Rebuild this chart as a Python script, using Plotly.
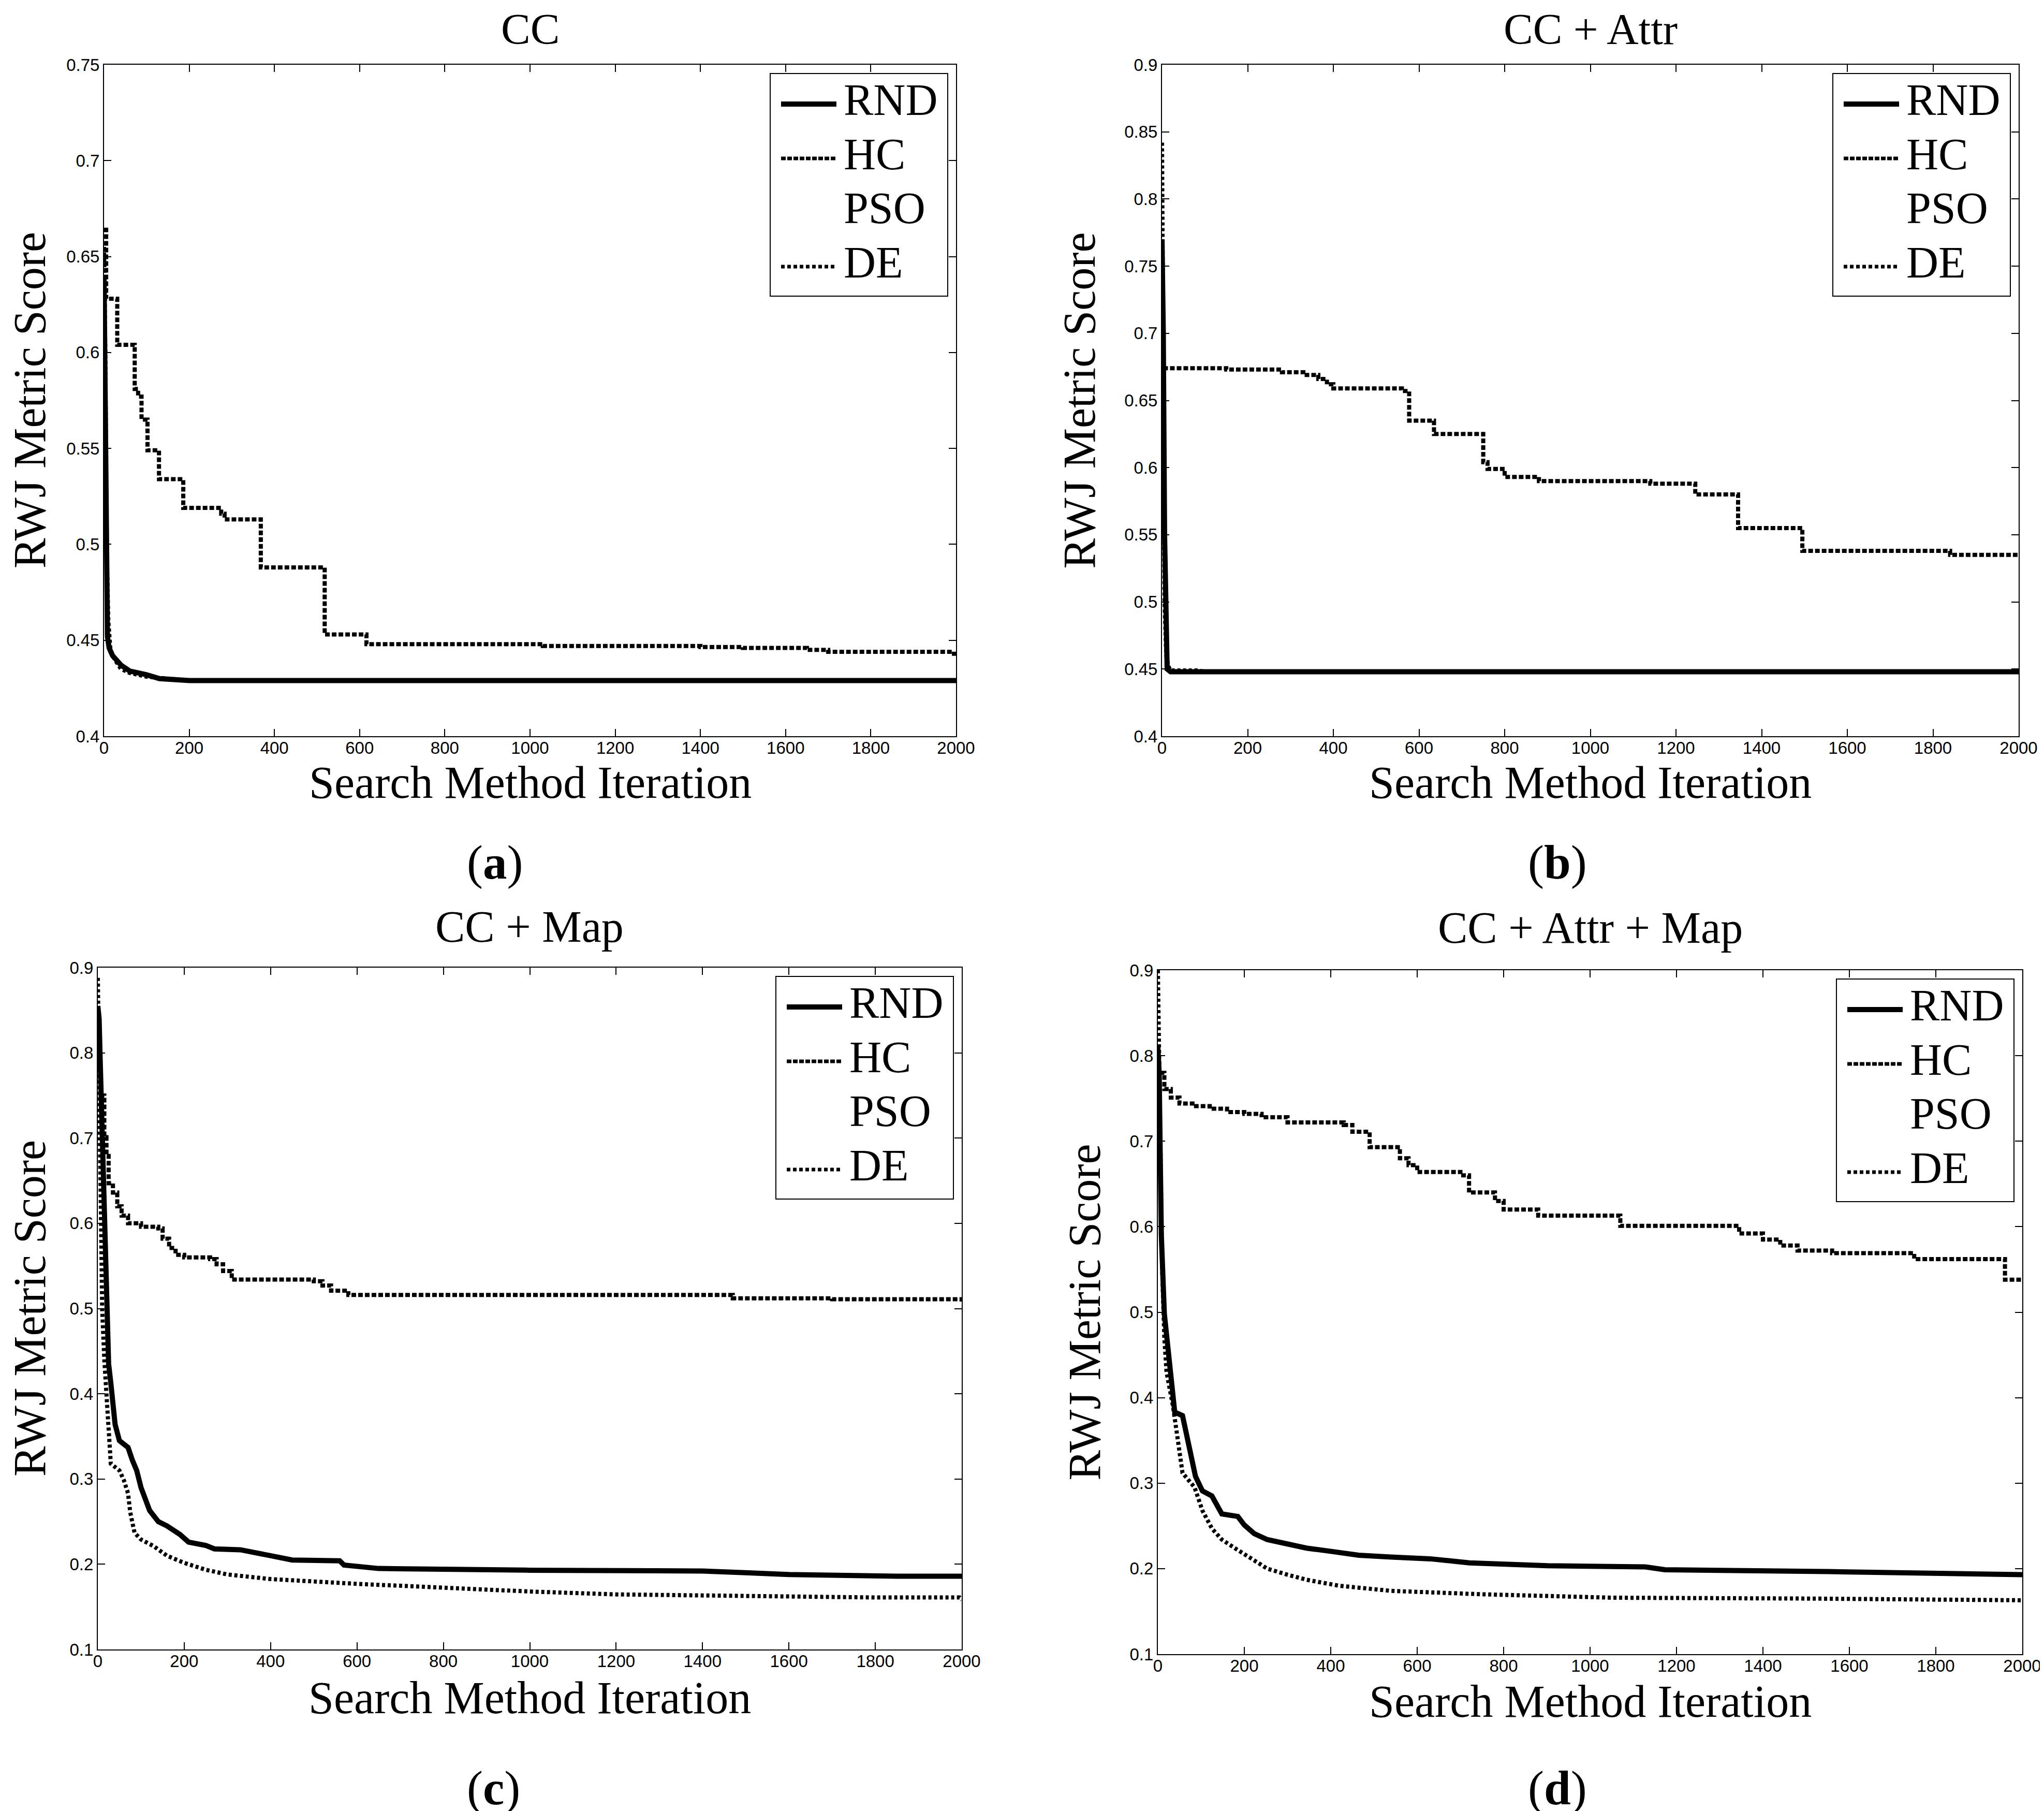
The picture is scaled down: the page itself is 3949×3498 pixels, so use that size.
import plotly.graph_objects as go

W, H = 3949, 3498

# ---------------- data ----------------
panel_titles = ["CC", "CC + Attr", "CC + Map", "CC + Attr + Map"]
panel_tags = ["a", "b", "c", "d"]
series_names = ["RND", "HC", "PSO", "DE"]
x_ticks = [0, 200, 400, 600, 800, 1000, 1200, 1400, 1600, 1800, 2000]

# (a) CC
rnd_a_x = [0, 2, 5, 8, 12, 20, 40, 60, 100, 130, 200, 2000]
rnd_a_y = [0.640, 0.600, 0.500, 0.452, 0.446, 0.442, 0.437, 0.434, 0.432, 0.430, 0.429, 0.429]
hc_a_x = [0, 5, 31, 72, 80, 88, 102, 129, 186, 275, 283, 368, 518, 616, 1030, 1400, 1500, 1650, 1700, 1990, 2000]
hc_a_y = [0.664, 0.628, 0.604, 0.581, 0.577, 0.565, 0.549, 0.534, 0.519, 0.516, 0.513, 0.488, 0.453, 0.448,
          0.447, 0.4465, 0.446, 0.445, 0.444, 0.443, 0.442]
de_a_x = [0, 3, 6, 10, 15, 25, 40, 60, 80, 100, 150, 200, 2000]
de_a_y = [0.655, 0.600, 0.500, 0.460, 0.445, 0.440, 0.435, 0.433, 0.432, 0.431, 0.430, 0.429, 0.429]

# (b) CC + Attr
rnd_b_x = [0, 3, 6, 9, 12, 20, 2000]
rnd_b_y = [0.770, 0.700, 0.550, 0.460, 0.450, 0.448, 0.448]
hc_b_x = [3, 150, 280, 330, 365, 385, 400, 560, 577, 635, 750, 760, 800, 880, 1140, 1245, 1345, 1495, 1840, 2000]
hc_b_y = [0.674, 0.673, 0.671, 0.669, 0.666, 0.662, 0.659, 0.657, 0.635, 0.625, 0.604, 0.599, 0.593, 0.590,
          0.588, 0.580, 0.555, 0.538, 0.535, 0.535]
de_b_x = [0, 2, 4, 6, 10, 15, 20, 80, 100, 2000]
de_b_y = [0.842, 0.750, 0.630, 0.500, 0.460, 0.452, 0.449, 0.449, 0.448, 0.448]

# (c) CC + Map
rnd_c_x = [0, 3, 5, 8, 13, 20, 25, 30, 40, 50, 70, 80, 90, 100, 120, 140, 160, 190, 210, 250, 270, 330, 360,
           400, 450, 560, 570, 650, 1000, 1400, 1500, 1600, 1850, 2000]
rnd_c_y = [0.855, 0.840, 0.800, 0.740, 0.630, 0.527, 0.435, 0.413, 0.364, 0.345, 0.337, 0.322, 0.310, 0.290,
           0.263, 0.250, 0.245, 0.235, 0.226, 0.222, 0.218, 0.217, 0.2135, 0.210, 0.205, 0.204, 0.199, 0.195,
           0.193, 0.192, 0.190, 0.188, 0.186, 0.186]
hc_c_x = [5, 15, 20, 25, 35, 45, 55, 70, 100, 140, 150, 165, 180, 200, 260, 275, 290, 310, 500, 520, 540, 580,
          1470, 1700, 1995, 2000]
hc_c_y = [0.750, 0.701, 0.679, 0.647, 0.636, 0.620, 0.609, 0.600, 0.596, 0.594, 0.582, 0.571, 0.563, 0.560,
          0.558, 0.552, 0.544, 0.534, 0.532, 0.527, 0.521, 0.516, 0.512, 0.511, 0.511, 0.507]
de_c_x = [0, 3, 6, 10, 15, 20, 25, 30, 50, 60, 70, 75, 85, 100, 130, 160, 200, 250, 300, 400, 600, 800, 1000,
          1200, 1500, 1800, 1995, 2000]
de_c_y = [0.888, 0.750, 0.600, 0.500, 0.440, 0.400, 0.360, 0.318, 0.310, 0.299, 0.283, 0.261, 0.237, 0.229,
          0.221, 0.210, 0.2016, 0.1935, 0.188, 0.1826, 0.177, 0.172, 0.168, 0.1646, 0.1624, 0.161, 0.161, 0.158]

# (d) CC + Attr + Map
rnd_d_x = [0, 3, 5, 8, 15, 24, 39, 57, 72, 87, 103, 125, 148, 185, 200, 223, 253, 299, 344, 404, 465, 540,
           630, 721, 902, 1128, 1173, 1550, 1882, 2000]
rnd_d_y = [0.810, 0.780, 0.700, 0.590, 0.498, 0.457, 0.383, 0.379, 0.342, 0.308, 0.291, 0.285, 0.264, 0.261,
           0.251, 0.241, 0.234, 0.229, 0.224, 0.220, 0.2157, 0.2136, 0.2115, 0.2068, 0.2034, 0.202, 0.1987,
           0.1966, 0.1934, 0.193]
hc_d_x = [5, 15, 30, 50, 80, 120, 160, 200, 240, 300, 430, 450, 490, 560, 580, 600, 700, 720, 780, 800, 880,
          1070, 1345, 1400, 1440, 1480, 1560, 1750, 1960, 2000]
hc_d_y = [0.780, 0.761, 0.751, 0.744, 0.741, 0.738, 0.734, 0.732, 0.728, 0.722, 0.719, 0.711, 0.693, 0.680,
          0.672, 0.664, 0.660, 0.640, 0.630, 0.620, 0.613, 0.601, 0.592, 0.585, 0.578, 0.572, 0.569, 0.562,
          0.538, 0.538]
de_d_x = [0, 3, 6, 10, 15, 20, 35, 57, 85, 103, 125, 148, 178, 208, 253, 299, 344, 419, 540, 751, 1053, 1505, 2000]
de_d_y = [0.900, 0.780, 0.650, 0.550, 0.470, 0.430, 0.390, 0.312, 0.295, 0.268, 0.247, 0.234, 0.224, 0.214,
          0.200, 0.193, 0.187, 0.180, 0.174, 0.170, 0.166, 0.165, 0.163]

y_ranges = [[0.4, 0.75], [0.4, 0.9], [0.1, 0.9], [0.1, 0.9]]
y_dticks = [0.05, 0.05, 0.1, 0.1]

# ---------------- layout geometry (pixels) ----------------
# plot boxes: left, right, top, bottom
boxes = [(193, 1839, 117, 1414), (2237, 3892, 117, 1414),
         (181, 1850, 1861, 3178), (2229, 3899, 1866, 3187)]
title_y = [None, None, 1782, 1784]       # top row titles are pinned to the top edge
xlabel_y = [1504, 1504, 3271, 3278]
ylabel_x = [None, 2077, None, 2087]      # left column labels are pinned to the left edge
tag_pos = [(948, 1657), (3001, 1657), (945, None), (3001, None)]  # bottom row pinned to bottom edge

SERIF = "Liberation Serif, Times New Roman, serif"
SANS = "Liberation Sans, Arial, sans-serif"


def px(x):
    return x / W


def py(y):
    return 1 - y / H


rnd = [(rnd_a_x, rnd_a_y), (rnd_b_x, rnd_b_y), (rnd_c_x, rnd_c_y), (rnd_d_x, rnd_d_y)]
hc = [(hc_a_x, hc_a_y), (hc_b_x, hc_b_y), (hc_c_x, hc_c_y), (hc_d_x, hc_d_y)]
de = [(de_a_x, de_a_y), (de_b_x, de_b_y), (de_c_x, de_c_y), (de_d_x, de_d_y)]

fig = go.Figure()
layout = dict(width=W, height=H, margin=dict(l=0, r=0, t=0, b=0, autoexpand=False), paper_bgcolor="white",
              plot_bgcolor="white", showlegend=False)
shapes, annots = [], []

for i in range(4):
    sfx = "" if i == 0 else str(i + 1)
    xa, ya = "x" + sfx, "y" + sfx
    l, r, t, b = boxes[i]
    fig.add_trace(go.Scatter(x=rnd[i][0], y=rnd[i][1], mode="lines", name="RND", xaxis=xa, yaxis=ya,
                             line=dict(color="black", width=10)))
    fig.add_trace(go.Scatter(x=de[i][0], y=de[i][1], mode="lines", name="DE", xaxis=xa, yaxis=ya,
                             line=dict(color="black", width=8, dash="6px,5px")))
    fig.add_trace(go.Scatter(x=hc[i][0], y=hc[i][1], mode="lines", name="HC", xaxis=xa, yaxis=ya,
                             line=dict(color="black", width=8, dash="9px,4px", shape="hv")))
    axcommon = dict(showline=True, linecolor="black", linewidth=2, mirror="ticks", ticks="inside",
                    ticklen=14, tickwidth=2, tickcolor="black", showgrid=False, zeroline=False,
                    tickfont=dict(family=SANS, size=33, color="black"))
    layout["xaxis" + sfx] = dict(domain=[px(l), px(r)], range=[0, 2000], tickvals=x_ticks,
                                 anchor=ya, ticklabelstandoff=-8, **axcommon)
    layout["yaxis" + sfx] = dict(domain=[py(b), py(t)], range=y_ranges[i], dtick=y_dticks[i],
                                 tick0=y_ranges[i][0], anchor=xa, **axcommon)
    cx = (l + r) / 2
    if title_y[i] is None:
        annots.append(dict(text=panel_titles[i], x=px(cx), y=1, xref="paper", yref="paper",
                           showarrow=False, xanchor="center", yanchor="top", borderpad=0,
                           font=dict(family=SERIF, size=85, color="black")))
    else:
        annots.append(dict(text=panel_titles[i], x=px(cx), y=py(title_y[i]), xref="paper", yref="paper",
                           showarrow=False, xanchor="center", yanchor="middle",
                           font=dict(family=SERIF, size=86, color="black")))
    annots.append(dict(text="Search Method Iteration", x=px(cx), y=py(xlabel_y[i]), xref="paper",
                       yref="paper", showarrow=False, xanchor="center", yanchor="middle",
                       font=dict(family=SERIF, size=88, color="black")))
    if ylabel_x[i] is None:
        annots.append(dict(text="RWJ Metric Score", x=0, y=py((t + b) / 2), xref="paper",
                           yref="paper", showarrow=False, xanchor="left", yanchor="middle", textangle=-90,
                           borderpad=0, font=dict(family=SERIF, size=88, color="black")))
    else:
        annots.append(dict(text="RWJ Metric Score", x=px(ylabel_x[i]), y=py((t + b) / 2), xref="paper",
                           yref="paper", showarrow=False, xanchor="center", yanchor="middle", textangle=-90,
                           font=dict(family=SERIF, size=88, color="black")))
    tx, ty = tag_pos[i]
    if ty is None:
        annots.append(dict(text="(<b>" + panel_tags[i] + "</b>)", x=px(tx), y=0, xref="paper",
                           yref="paper", showarrow=False, xanchor="center", yanchor="bottom", borderpad=0,
                           font=dict(family=SERIF, size=93, color="black")))
    else:
        annots.append(dict(text="(<b>" + panel_tags[i] + "</b>)", x=px(tx), y=py(ty), xref="paper",
                           yref="paper", showarrow=False, xanchor="center", yanchor="middle",
                           font=dict(family=SERIF, size=93, color="black")))
    # legend box
    bx1 = r - 16
    bx0 = bx1 - 343
    by0 = t + 17
    by1 = by0 + 430
    shapes.append(dict(type="rect", xref="paper", yref="paper", x0=px(bx0), x1=px(bx1), y0=py(by1),
                       y1=py(by0), line=dict(color="black", width=2), fillcolor="white", layer="above"))
    rows = [59, 164, 268, 373]
    styles = [dict(color="black", width=10), dict(color="black", width=7, dash="9px,3px"), None,
              dict(color="black", width=7, dash="7px,5px")]
    for k, name in enumerate(series_names):
        yy = by0 + rows[k]
        if styles[k] is not None:
            shapes.append(dict(type="line", xref="paper", yref="paper", x0=px(bx0 + 21), x1=px(bx0 + 128),
                               y0=py(yy), y1=py(yy), line=styles[k], layer="above"))
        annots.append(dict(text=name, x=px(bx0 + 140), y=py(yy - 8), xref="paper", yref="paper",
                           showarrow=False, xanchor="left", yanchor="middle",
                           font=dict(family=SERIF, size=86, color="black")))

layout["shapes"] = shapes
layout["annotations"] = annots
fig.update_layout(**layout)
fig.write_html("out.html")
